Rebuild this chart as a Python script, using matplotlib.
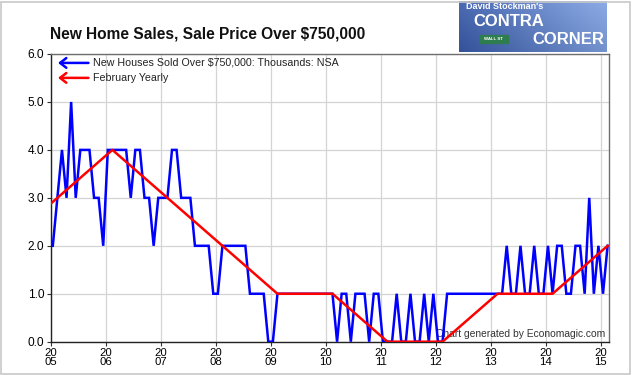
import numpy as np
import matplotlib
matplotlib.use("Agg")
import matplotlib.pyplot as plt
from matplotlib import font_manager as fm
from matplotlib.patches import Rectangle

# ---------------- data ----------------
title = "New Home Sales, Sale Price Over $750,000"
blue_label = "New Houses Sold Over $750,000: Thousands: NSA"
red_label = "February Yearly"
credit = "Chart generated by Economagic.com"

# monthly series, starting Dec 2004 (partly clipped at the left edge)
start_year = 2004
start_month = 12
sold_dec_2004 = [2]
sold_2005 = [2, 3, 4, 3, 5, 3, 4, 4, 4, 3, 3, 2]
sold_2006 = [4, 4, 4, 4, 4, 3, 4, 4, 3, 3, 2, 3]
sold_2007 = [3, 3, 4, 4, 3, 3, 3, 2, 2, 2, 2, 1]
sold_2008 = [1, 2, 2, 2, 2, 2, 2, 1, 1, 1, 1, 0]
sold_2009 = [0, 1, 1, 1, 1, 1, 1, 1, 1, 1, 1, 1]
sold_2010 = [1, 1, 0, 1, 1, 0, 1, 1, 1, 0, 1, 1]
sold_2011 = [0, 0, 0, 1, 0, 0, 1, 0, 0, 1, 0, 1]
sold_2012 = [0, 0, 1, 1, 1, 1, 1, 1, 1, 1, 1, 1]
sold_2013 = [1, 1, 1, 2, 1, 1, 2, 1, 1, 2, 1, 1]
sold_2014 = [2, 1, 2, 2, 1, 1, 2, 2, 1, 3, 1, 2]
sold_2015 = [1, 2]

feb_years = [2004, 2005, 2006, 2007, 2008, 2009, 2010, 2011, 2012, 2013, 2014, 2015]
feb_values = [2, 3, 4, 3, 2, 1, 1, 0, 0, 1, 1, 2]

tick_years = list(range(2005, 2016))
tick_labels = ["20\n%02d" % (y % 100) for y in tick_years]
y_ticks = [0, 1, 2, 3, 4, 5, 6]
y_tick_labels = ["%.1f" % v for v in y_ticks]

sold = (sold_dec_2004 + sold_2005 + sold_2006 + sold_2007 + sold_2008 + sold_2009
        + sold_2010 + sold_2011 + sold_2012 + sold_2013 + sold_2014 + sold_2015)
n = len(sold)
month_idx = np.arange(n) + (start_month - 1)
x_sold = start_year + (month_idx + 0.5) / 12.0
x_feb = np.array(feb_years) + 1.5 / 12.0

# ---------------- fonts ----------------
names = {f.name for f in fm.fontManager.ttflist}
base = "Liberation Sans" if "Liberation Sans" in names else "DejaVu Sans"
narrow = "Liberation Sans Narrow" if "Liberation Sans Narrow" in names else base
plt.rcParams["font.family"] = [base, "DejaVu Sans"]

W, H = 633, 375
fig = plt.figure(figsize=(W / 100, H / 100), dpi=100)
fig.patch.set_facecolor("white")

L, R, T, B = 50.5, 608.8, 54.0, 341.7
ax = fig.add_axes([L / W, 1 - B / H, (R - L) / W, (B - T) / H])

ax.grid(True, color="#d4d4d4", linewidth=0.9, zorder=0)
ax.set_axisbelow(True)

ax.text(0.993, 0.028, credit, transform=ax.transAxes, ha="right", va="center",
        fontsize=7.4, color="#333333", zorder=1)

ax.plot(x_sold, sold, color="#0000ff", linewidth=1.8, zorder=3, solid_joinstyle="miter")
ax.plot(x_feb, feb_values, color="#ff0000", linewidth=1.8, zorder=4)

ax.set_xlim(2005.0, 2015.147)
ax.set_ylim(0, 6)
ax.set_xticks(tick_years)
ax.set_xticklabels(tick_labels, fontsize=8.2, linespacing=0.82)
ax.set_yticks(y_ticks)
ax.set_yticklabels(y_tick_labels, fontsize=8.6)
ax.tick_params(axis="both", direction="out", length=3, width=0.8, color="#333333", pad=1.5)

for side in ["left", "bottom"]:
    ax.spines[side].set_color("#222222")
    ax.spines[side].set_linewidth(1.0)
for side in ["top", "right"]:
    ax.spines[side].set_color("#6e6e6e")
    ax.spines[side].set_linewidth(1.0)

# legend with arrow markers
for yy, col, lab in [(0.969, "#0000ff", blue_label), (0.917, "#ff0000", red_label)]:
    ax.annotate("", xy=(0.0135, yy), xytext=(0.068, yy), xycoords="axes fraction",
                arrowprops=dict(arrowstyle="->,head_length=0.45,head_width=0.35",
                                color=col, lw=1.8, shrinkA=0, shrinkB=0), zorder=5)
    ax.text(0.076, yy, lab, transform=ax.transAxes, ha="left", va="center",
            fontsize=7.7, color="#222222", zorder=5)

# title
fig.text(L / W, 1 - 34 / H, title, ha="left", va="center", fontsize=11.2,
         fontweight="bold", family=[narrow, base], color="#111111")

# logo (approximation of the banner image)
lax = fig.add_axes([459 / W, 1 - 52 / H, (607 - 459) / W, (52 - 1) / H])
grad = np.linspace(0, 1, 64)[None, :] * np.ones((32, 1))
vert = np.linspace(0, 1, 32)[:, None]
img = np.zeros((32, 64, 3))
img[..., 0] = 0.30 + 0.25 * grad - 0.10 * vert
img[..., 1] = 0.42 + 0.25 * grad - 0.10 * vert
img[..., 2] = 0.70 + 0.20 * grad - 0.10 * vert
lax.imshow(np.clip(img, 0, 1), aspect="auto", extent=[0, 1, 0, 1])
lax.add_patch(Rectangle((0.14, 0.18), 0.19, 0.16, color="#2e7d4f", zorder=2))
lax.text(0.235, 0.26, "WALL ST", ha="center", va="center", fontsize=3.2,
         color="white", fontweight="bold", zorder=3)
lax.text(0.05, 0.89, "David Stockman's", ha="left", va="center", fontsize=6.5,
         color="white", fontweight="bold", family=[narrow, base])
lax.text(0.10, 0.60, "CONTRA", ha="left", va="center", fontsize=12,
         color="white", fontweight="bold", family=[narrow, base])
lax.text(0.98, 0.25, "CORNER", ha="right", va="center", fontsize=12,
         color="white", fontweight="bold", family=[narrow, base])
lax.set_xlim(0, 1)
lax.set_ylim(0, 1)
lax.axis("off")

# outer border
fig.add_artist(Rectangle((0.002, 0.004), 0.994, 0.992, transform=fig.transFigure,
                         fill=False, edgecolor="#c8c8c8", linewidth=1.2))

fig.savefig("out.png", dpi=100)
